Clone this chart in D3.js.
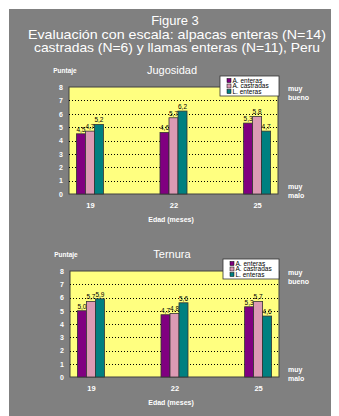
<!DOCTYPE html>
<html>
<head>
<meta charset="utf-8">
<script src="https://cdn.jsdelivr.net/npm/d3@7"></script>
<style>
  body { margin: 0; background: #fff; }
  svg text { font-family: "Liberation Sans", Arial, sans-serif; }
</style>
</head>
<body>
<div id="chart"></div>
<script>
// data
const ages = ["19", "22", "25"];
const seriesNames = ["A. enteras", "A. castradas", "L. enteras"];
const seriesColors = ["#800080", "#dc9ab4", "#008080"];
const yTicks = [0, 1, 2, 3, 4, 5, 6, 7, 8];

const jugosidadAE = [4.5, 4.6, 5.3];
const jugosidadAC = [4.7, 5.7, 5.8];
const jugosidadLE = [5.2, 6.2, 4.7];

const ternuraAE = [5.0, 4.7, 5.3];
const ternuraAC = [5.7, 4.8, 5.7];
const ternuraLE = [5.9, 5.6, 4.6];

const titleLines = [
    "Figure 3",
    "Evaluación con escala: alpacas enteras (N=14)",
    "castradas (N=6) y llamas enteras (N=11), Peru"
];
const titleWidths = [null, 298, 286];

const W = 339, H = 416;

const svg = d3.select("#chart")
    .append("svg")
    .attr("width", W)
    .attr("height", H);

// gray panel
svg.append("rect")
    .attr("x", 9).attr("y", 9)
    .attr("width", 322).attr("height", H - 9)
    .attr("fill", "#808080");

// main title
svg.selectAll(".title")
    .data(titleLines)
    .enter().append("text")
    .attr("class", "title")
    .attr("x", (d, i) => i === 0 ? 175 : 177)
    .attr("y", (d, i) => 25 + i * 13.5)
    .attr("text-anchor", "middle")
    .attr("fill", "#fff")
    .style("font-size", "13px")
    .each(function (d, i) {
        if (titleWidths[i]) {
            d3.select(this)
                .attr("textLength", titleWidths[i])
                .attr("lengthAdjust", "spacingAndGlyphs");
        }
    })
    .text(d => d);

function drawPanel(cfg)
{
    const g = svg.append("g");
    const values = [cfg.ae, cfg.ac, cfg.le];

    const x = d3.scalePoint()
        .domain(ages)
        .range([cfg.left, cfg.right])
        .padding(0.25);

    const xInner = d3.scaleBand()
        .domain(d3.range(seriesNames.length))
        .range([-13.5, 13.5]);

    const y = d3.scaleLinear()
        .domain([0, 8])
        .range([cfg.bottom, cfg.top]);

    // plot area
    g.append("rect")
        .attr("x", cfg.left).attr("y", cfg.top)
        .attr("width", cfg.right - cfg.left)
        .attr("height", cfg.bottom - cfg.top)
        .attr("fill", "#ffff80")
        .attr("stroke", "#404040")
        .attr("stroke-width", 1);

    // dotted gridlines
    g.selectAll(".grid")
        .data(yTicks.filter(t => t > 0 && t < 8))
        .enter().append("line")
        .attr("x1", cfg.left).attr("x2", cfg.right)
        .attr("y1", d => Math.round(y(d)) + 0.5)
        .attr("y2", d => Math.round(y(d)) + 0.5)
        .attr("stroke", "#000")
        .attr("stroke-width", 1)
        .attr("stroke-dasharray", "1,2");

    // y axis labels
    const yAxis = g.append("g")
        .attr("transform", `translate(${cfg.left},0)`)
        .call(d3.axisLeft(y).tickValues(yTicks).tickSize(0).tickPadding(6));
    yAxis.select(".domain").remove();
    yAxis.selectAll("text")
        .attr("fill", "#fff")
        .style("font-size", "7px")
        .style("font-weight", "bold");

    // bars
    seriesNames.forEach((name, s) => {
        g.selectAll(".bar" + s)
            .data(values[s])
            .enter().append("rect")
            .attr("x", (d, i) => x(ages[i]) + xInner(s))
            .attr("y", d => y(d))
            .attr("width", xInner.bandwidth())
            .attr("height", d => y(0) - y(d))
            .attr("fill", seriesColors[s])
            .attr("stroke", "#333")
            .attr("stroke-width", 0.8);

        g.selectAll(".lab" + s)
            .data(values[s])
            .enter().append("text")
            .attr("x", (d, i) => x(ages[i]) + xInner(s) + xInner.bandwidth() / 2)
            .attr("y", d => y(d) - 2)
            .attr("text-anchor", "middle")
            .attr("fill", "#000")
            .style("font-size", "6.5px")
            .text(d => d.toFixed(1).replace(".", ","));
    });

    // x axis labels
    const xAxis = g.append("g")
        .attr("transform", `translate(0,${cfg.bottom})`)
        .call(d3.axisBottom(x).tickSize(0).tickPadding(9));
    xAxis.select(".domain").remove();
    xAxis.selectAll("text")
        .attr("fill", "#fff")
        .style("font-size", "7.5px")
        .style("font-weight", "bold");

    g.append("text")
        .attr("x", 171)
        .attr("y", cfg.bottom + 28)
        .attr("text-anchor", "middle")
        .attr("fill", "#fff")
        .style("font-size", "7px")
        .style("font-weight", "bold")
        .text("Edad (meses)");

    // panel title and y label
    g.append("text")
        .attr("x", 172)
        .attr("y", cfg.top - 13)
        .attr("text-anchor", "middle")
        .attr("fill", "#fff")
        .style("font-size", "11px")
        .text(cfg.title);

    g.append("text")
        .attr("x", cfg.left - 4)
        .attr("y", cfg.top - 14)
        .attr("text-anchor", "middle")
        .attr("fill", "#fff")
        .style("font-size", "6.5px")
        .style("font-weight", "bold")
        .text("Puntaje");

    // scale words
    [["muy", "bueno", cfg.top + 4], ["muy", "malo", cfg.bottom - 5]].forEach(w => {
        g.append("text")
            .attr("x", 288).attr("y", w[2])
            .attr("fill", "#fff")
            .style("font-size", "7px")
            .style("font-weight", "bold")
            .text(w[0]);
        g.append("text")
            .attr("x", 288).attr("y", w[2] + 9)
            .attr("fill", "#fff")
            .style("font-size", "7px")
            .style("font-weight", "bold")
            .text(w[1]);
    });

    // legend
    const lg = g.append("g")
        .attr("transform", `translate(${cfg.legX},${cfg.legY})`);
    lg.append("rect")
        .attr("width", cfg.legW).attr("height", 20)
        .attr("fill", "#fff")
        .attr("stroke", "#333")
        .attr("stroke-width", 0.8);
    seriesNames.forEach((name, s) => {
        lg.append("rect")
            .attr("x", 7).attr("y", 2.5 + s * 5.5)
            .attr("width", 4).attr("height", 4)
            .attr("fill", seriesColors[s])
            .attr("stroke", "#000")
            .attr("stroke-width", 0.5);
        lg.append("text")
            .attr("x", 12.5).attr("y", 6.5 + s * 5.5)
            .attr("fill", "#000")
            .style("font-size", "6.5px")
            .text(name);
    });
}

drawPanel({
    title: "Jugosidad", top: 87, bottom: 194, left: 69, right: 278,
    legX: 220, legY: 76, legW: 59,
    ae: jugosidadAE, ac: jugosidadAC, le: jugosidadLE
});

drawPanel({
    title: "Ternura", top: 271, bottom: 377, left: 70, right: 279,
    legX: 223, legY: 259, legW: 56,
    ae: ternuraAE, ac: ternuraAC, le: ternuraLE
});
</script>
</body>
</html>
